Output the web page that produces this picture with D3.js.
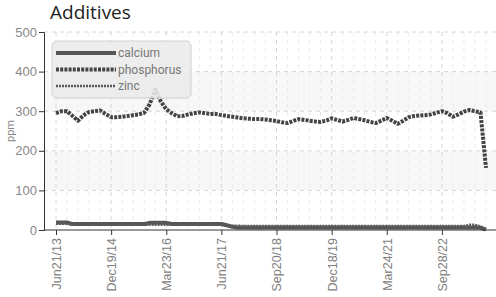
<!DOCTYPE html>
<html>
<head>
<meta charset="utf-8">
<script src="https://cdn.jsdelivr.net/npm/d3@7"></script>
<style>
  body { margin: 0; background: #fff; }
  svg { display: block; font-family: Roboto, "Liberation Sans", sans-serif; }
</style>
</head>
<body>
<div id="app"></div>
<script>
const width = 496;
const height = 297;

// tick labels, one every 10 samples
const tickLabels = ["Jun21/13", "Dec19/14", "Mar23/16", "Jun21/17", "Sep20/18", "Dec18/19", "Mar24/21", "Sep28/22"];

const phosphorus = [295, 300, 300, 288, 276, 290, 298, 300, 302, 293,
  285, 285, 286, 288, 290, 292, 296, 318, 355, 325,
  305, 295, 287, 288, 292, 295, 297, 295, 293, 293,
  290, 288, 286, 284, 282, 281, 280, 280, 279, 277,
  275, 272, 270, 275, 280, 278, 276, 274, 273, 276,
  282, 278, 274, 278, 283, 280, 277, 273, 270, 276,
  283, 276, 268, 276, 285, 288, 289, 290, 292, 296,
  300, 295, 286, 292, 299, 303, 300, 297, 157];

const calcium = [19, 19, 19, 15, 15, 15, 15, 15, 15, 15,
  15, 15, 15, 15, 15, 15, 15, 18, 18, 18,
  18, 15, 15, 15, 15, 15, 15, 15, 15, 15,
  15, 12, 8, 6, 6, 6, 6, 6, 6, 6,
  6, 6, 6, 6, 6, 6, 6, 6, 6, 6,
  6, 6, 6, 6, 6, 6, 6, 6, 6, 6,
  6, 6, 6, 6, 6, 6, 6, 6, 6, 6,
  6, 6, 6, 6, 6, 6, 7, 6, 1];

const zinc = [16, 16, 16, 13, 13, 13, 13, 13, 16, 13,
  13, 13, 13, 13, 13, 13, 13, 13, 13, 13,
  13, 13, 13, 13, 13, 13, 16, 13, 13, 13,
  13, 11, 11, 11, 10, 10, 10, 10, 10, 10,
  10, 10, 10, 10, 10, 10, 10, 10, 10, 10,
  10, 10, 10, 10, 10, 10, 10, 10, 10, 10,
  10, 10, 10, 10, 10, 10, 10, 10, 10, 10,
  10, 10, 10, 10, 10, 13, 13, 9, 1];

const series = [
  { name: "calcium", values: calcium, color: "#555", width: 4, dash: null },
  { name: "phosphorus", values: phosphorus, color: "#444", width: 4, dash: "3,1.2" },
  { name: "zinc", values: zinc, color: "#5a5a5a", width: 2.5, dash: "2,1" },
];

const margin = { top: 32, right: 0, bottom: 67, left: 44 };
const plotBottom = height - margin.bottom;

const xScale = d3.scaleLinear().domain([0, phosphorus.length - 1]).range([56, 486]);
const yScale = d3.scaleLinear().domain([0, 500]).range([plotBottom, margin.top]);

const svg = d3
  .select("div#app")
  .append("svg")
  .attr("width", width)
  .attr("height", height);

// alternating bands
const bands = [[100, 200], [300, 400]];
svg
  .selectAll("rect.band")
  .data(bands)
  .enter()
  .append("rect")
  .attr("class", "band")
  .attr("x", margin.left)
  .attr("width", width - margin.left)
  .attr("y", (d) => yScale(d[1]))
  .attr("height", (d) => yScale(d[0]) - yScale(d[1]))
  .attr("fill", "#f7f7f7");

// minor vertical grid every 2 samples
const minorIdx = d3.range(0, phosphorus.length, 2).filter((i) => i % 10 !== 0);
svg
  .selectAll("line.minor")
  .data(minorIdx)
  .enter()
  .append("line")
  .attr("x1", (d) => xScale(d))
  .attr("x2", (d) => xScale(d))
  .attr("y1", margin.top)
  .attr("y2", plotBottom)
  .attr("stroke", "#ebebeb")
  .attr("stroke-dasharray", "4,4");

const majorIdx = tickLabels.map((_, i) => i * 10);
svg
  .selectAll("line.major")
  .data(majorIdx)
  .enter()
  .append("line")
  .attr("x1", (d) => xScale(d))
  .attr("x2", (d) => xScale(d))
  .attr("y1", margin.top)
  .attr("y2", plotBottom)
  .attr("stroke", "#d6d6d6")
  .attr("stroke-dasharray", "4,4");

svg
  .selectAll("line.hgrid")
  .data([100, 200, 300, 400, 500])
  .enter()
  .append("line")
  .attr("x1", margin.left)
  .attr("x2", width)
  .attr("y1", (d) => yScale(d))
  .attr("y2", (d) => yScale(d))
  .attr("stroke", "#d6d6d6")
  .attr("stroke-dasharray", "4,4");

// lines
const line = (vals) =>
  d3.line().x((d, i) => xScale(i)).y((d) => yScale(d))(vals);

series.forEach((s) => {
  svg
    .append("path")
    .attr("d", line(s.values))
    .attr("fill", "none")
    .attr("stroke", s.color)
    .attr("stroke-width", s.width)
    .attr("stroke-dasharray", s.dash)
    .attr("stroke-linejoin", "round");
});

// axes
const yAxis = svg
  .append("g")
  .attr("transform", `translate(${margin.left},0)`)
  .call(d3.axisLeft(yScale).tickValues([0, 100, 200, 300, 400, 500]).tickSize(5).tickPadding(2));
yAxis.select(".domain").attr("stroke", "#333");
yAxis.selectAll(".tick line").attr("stroke", "#333");
yAxis.selectAll(".tick text").attr("fill", "#888").style("font-size", "13px");

const xAxis = svg
  .append("g")
  .attr("transform", `translate(0,${plotBottom})`)
  .call(
    d3.axisBottom(xScale)
      .tickValues(majorIdx)
      .tickFormat((d) => tickLabels[d / 10])
      .tickSize(5)
  );
xAxis.select(".domain").remove();
xAxis.selectAll(".tick line").attr("stroke", "#333");
xAxis
  .selectAll(".tick text")
  .attr("fill", "#808080")
  .style("font-size", "12.5px")
  .attr("transform", "rotate(-90)")
  .attr("text-anchor", "end")
  .attr("x", -8)
  .attr("y", 0)
  .attr("dy", "0.35em");

svg
  .append("line")
  .attr("x1", margin.left)
  .attr("x2", width)
  .attr("y1", plotBottom)
  .attr("y2", plotBottom)
  .attr("stroke", "#333");

svg
  .append("text")
  .attr("transform", `translate(14,${(margin.top + plotBottom) / 2}) rotate(-90)`)
  .attr("text-anchor", "middle")
  .style("font-size", "11px")
  .attr("fill", "#888")
  .text("ppm");

svg
  .append("text")
  .attr("x", 50)
  .attr("y", 19)
  .style("font-family", "'Open Sans', 'Noto Sans', sans-serif")
  .style("font-size", "19px")
  .attr("fill", "#222")
  .text("Additives");

// legend
const legend = svg.append("g").attr("transform", "translate(52,41)");
legend
  .append("rect")
  .attr("width", 139)
  .attr("height", 57)
  .attr("rx", 5)
  .attr("fill", "#ebebeb")
  .attr("fill-opacity", 0.88)
  .attr("stroke", "#d0d0d0");

series.forEach((s, i) => {
  const row = legend.append("g").attr("transform", `translate(0,${12 + i * 16.5})`);
  row
    .append("line")
    .attr("x1", 4)
    .attr("x2", 64)
    .attr("stroke", s.color)
    .attr("stroke-width", s.width)
    .attr("stroke-dasharray", s.dash);
  row
    .append("text")
    .attr("x", 66)
    .attr("dy", "0.35em")
    .style("font-size", "12px")
    .attr("fill", "#777")
    .text(s.name);
});
</script>
</body>
</html>
